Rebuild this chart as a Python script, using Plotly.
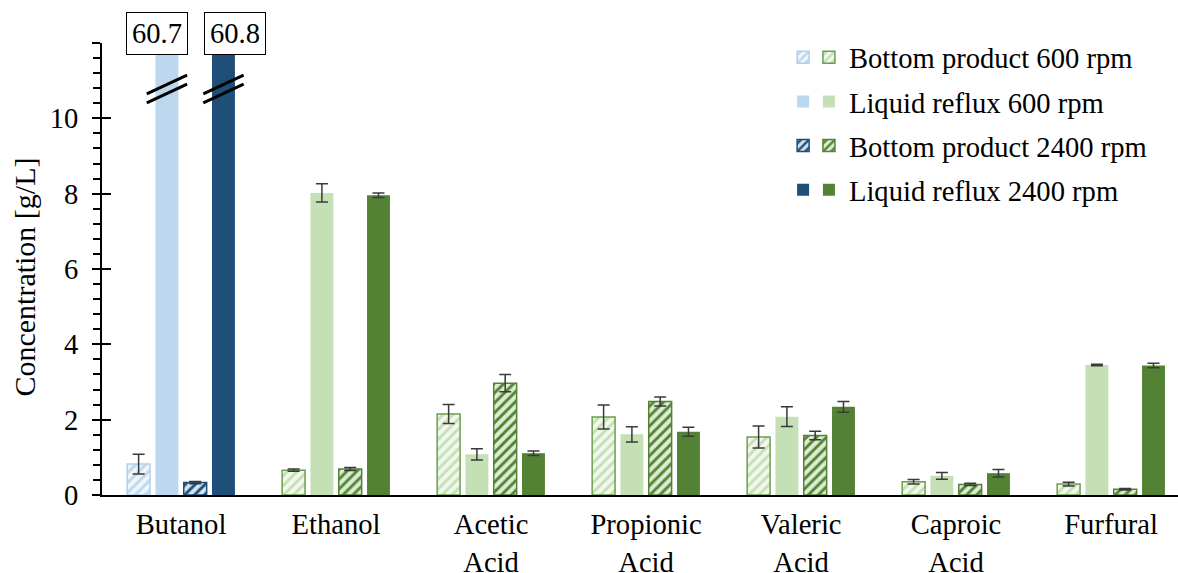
import plotly.graph_objects as go

categories = ["Butanol", "Ethanol", "Acetic<br>Acid", "Propionic<br>Acid",
              "Valeric<br>Acid", "Caproic<br>Acid", "Furfural"]

series_names = ["Bottom product 600 rpm", "Liquid reflux 600 rpm",
                "Bottom product 2400 rpm", "Liquid reflux 2400 rpm"]

y_tickvals = [0, 2, 4, 6, 8, 10, 12]
y_ticktext = ["0", "2", "4", "6", "8", "10", ""]

bp600 = [0.82, 0.66, 2.15, 2.07, 1.54, 0.35, 0.29]
bp600_err = [0.26, 0.03, 0.25, 0.32, 0.29, 0.06, 0.05]
lr600 = [60.7, 8.02, 1.08, 1.61, 2.08, 0.51, 3.45]
lr600_err = [0.0, 0.24, 0.15, 0.20, 0.26, 0.09, 0.02]
bp2400 = [0.33, 0.69, 2.97, 2.48, 1.58, 0.28, 0.15]
bp2400_err = [0.03, 0.04, 0.23, 0.12, 0.11, 0.03, 0.02]
lr2400 = [60.8, 7.96, 1.11, 1.68, 2.34, 0.58, 3.44]
lr2400_err = [0.0, 0.06, 0.06, 0.12, 0.14, 0.10, 0.06]

values = [bp600, lr600, bp2400, lr2400]
errors = [bp600_err, lr600_err, bp2400_err, lr2400_err]

FONT = "Liberation Serif"
FS = 28.6
BLUE_L, BLUE_D = "#BDD7EE", "#1F4E79"
GREEN_L, GREEN_D = "#C5E0B4", "#548235"

blue_styles = [
    dict(bg="#F1F6FB", fg=BLUE_L, shape="/", line="#B4CFE8", lw=1.5),
    dict(bg=BLUE_L, fg=BLUE_L, shape="", line=BLUE_L, lw=0),
    dict(bg="#D5E4F3", fg=BLUE_D, shape="/", line=BLUE_D, lw=1.5),
    dict(bg=BLUE_D, fg=BLUE_D, shape="", line=BLUE_D, lw=0),
]
green_styles = [
    dict(bg="#F3F8EF", fg=GREEN_L, shape="/", line="#6B9F4E", lw=1.5),
    dict(bg=GREEN_L, fg=GREEN_L, shape="", line=GREEN_L, lw=0),
    dict(bg="#DDEDD3", fg=GREEN_D, shape="/", line=GREEN_D, lw=1.5),
    dict(bg=GREEN_D, fg=GREEN_D, shape="", line=GREEN_D, lw=0),
]

BARGAP = 0.27
BARGROUPGAP = 0.19

fig = go.Figure()


def add_bar(xs, ys, es, st, name, legend, group):
    fig.add_trace(go.Bar(
        x=xs, y=ys, name=name, legend=legend, legendgroup=group,
        offsetgroup=group,
        marker=dict(
            color=st["bg"],
            line=dict(color=st["line"], width=st["lw"]),
            pattern=dict(shape=st["shape"], fgcolor=st["fg"], bgcolor=st["bg"],
                         size=7, solidity=0.42, fillmode="replace"),
        ),
        error_y=dict(type="data", array=es, visible=True, color="#3A3A3A",
                     thickness=1.5, width=6),
    ))


for i in range(4):
    add_bar([categories[0]], [values[i][0]], [errors[i][0]], blue_styles[i],
            " ", "legend", f"s{i}")
for i in range(4):
    add_bar(categories[1:], values[i][1:], errors[i][1:], green_styles[i],
            series_names[i], "legend2", f"s{i}")

# broken-axis marks and value boxes for the off-scale butanol bars
slot = (1 - BARGAP) / 4
shapes = []
annotations = []
for si, xs_shift in [(1, -10), (3, 12)]:
    xc = 0 + (si - 1.5) * slot
    yc = 10.78
    for d in (0.12, -0.12):
        shapes.append(dict(type="line", xref="x", yref="y",
                           x0=xc - 0.13, x1=xc + 0.13,
                           y0=yc - 0.25 + d, y1=yc + 0.25 + d,
                           line=dict(color="black", width=3), layer="above"))
    annotations.append(dict(
        xref="x", yref="paper", x=xc, y=1, xshift=xs_shift, yshift=10,
        text=f"{values[si][0]:.1f}", showarrow=False, xanchor="center",
        yanchor="middle", bgcolor="white", bordercolor="black", borderwidth=1,
        borderpad=5, font=dict(family=FONT, size=FS, color="black")))

annotations.append(dict(
    xref="paper", yref="paper", x=0, y=0.481, xshift=-77, textangle=-90,
    text="Concentration [g/L]", showarrow=False, xanchor="center",
    yanchor="middle", font=dict(family=FONT, size=30, color="black")))

legend_common = dict(
    y=1.024, xanchor="left", yanchor="top",
    bgcolor="rgba(0,0,0,0)", borderwidth=0, tracegroupgap=4,
    font=dict(family=FONT, size=FS, color="black"), traceorder="grouped",
)

fig.update_layout(
    width=1178, height=573,
    margin=dict(l=102, r=0, t=43, b=78),
    paper_bgcolor="white", plot_bgcolor="white",
    font=dict(family=FONT, size=FS, color="black"),
    barmode="group", bargap=BARGAP, bargroupgap=BARGROUPGAP,
    shapes=shapes, annotations=annotations,
    xaxis=dict(
        type="category", categoryorder="array", categoryarray=categories,
        range=[-0.51, 6.432], showline=True, linecolor="black", linewidth=2,
        ticks="outside", ticklen=3, tickcolor="rgba(0,0,0,0)",
        showgrid=False, zeroline=False, automargin=False,
        tickfont=dict(family=FONT, size=FS, color="black"),
    ),
    yaxis=dict(
        range=[0, 12], tickmode="array", tickvals=y_tickvals,
        ticktext=y_ticktext, showline=True, linecolor="black",
        linewidth=2, ticks="outside", ticklen=8, tickwidth=2, tickcolor="black",
        ticklabelstandoff=8,
        minor=dict(dtick=0.4, tick0=0, ticks="outside", ticklen=7,
                   tickwidth=1.5, tickcolor="black", showgrid=False),
        showgrid=False, zeroline=False, automargin=False,
        tickfont=dict(family=FONT, size=FS, color="black"),
    ),
    yaxis3=dict(
        range=[0, 12], tickmode="array", tickvals=y_tickvals,
        overlaying="y", side="left", automargin=False,
        anchor="x", ticks="inside", ticklen=9, tickwidth=2, tickcolor="black",
        showticklabels=False, showline=False, showgrid=False, zeroline=False,
    ),
    legend=dict(x=0.633, **legend_common),
    legend2=dict(x=0.657, **legend_common),
)

# invisible trace that activates the overlay axis carrying inside major ticks
fig.add_trace(go.Scatter(x=[categories[0]], y=[None], yaxis="y3",
                         showlegend=False, hoverinfo="skip"))

fig.write_html("out.html", config={"displayModeBar": False},
               post_script="document.body.style.margin='0';")
